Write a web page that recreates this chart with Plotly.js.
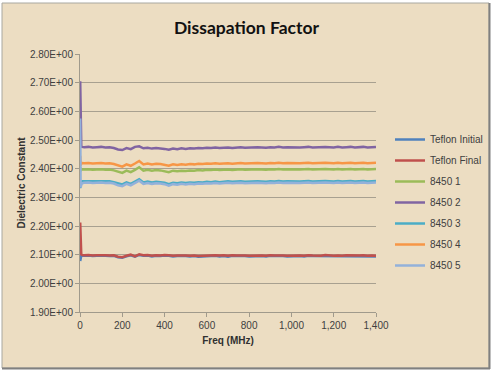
<!DOCTYPE html>
<html><head><meta charset="utf-8">
<script src="https://cdn.plot.ly/plotly-3.0.1.min.js"></script>
<style>html,body{margin:0;padding:0;background:#fff;}#chart{width:493px;height:372px;}</style>
</head><body><div id="chart"></div>
<script>
const freq = [1,3,6,10,
 20,40,60,80,100,120,140,160,180,200,
 220,240,260,280,300,320,340,360,380,400,
 420,440,460,480,500,520,540,560,580,600,
 620,640,660,680,700,720,740,760,780,800,
 820,840,860,880,900,920,940,960,980,1000,
 1020,1040,1060,1080,1100,1120,1140,1160,1180,1200,
 1220,1240,1260,1280,1300,1320,1340,1360,1380,1400];

const seriesNames = ['Teflon Initial','Teflon Final','8450 1','8450 2','8450 3','8450 4','8450 5'];
const seriesColors = ['#4F81BD','#C0504D','#9BBB59','#8064A2','#4BACC6','#F79646','#93B1DA'];

const teflonInitial = [2.078,2.094,2.096,2.097,
 2.096,2.097,2.095,2.096,2.097,2.096,2.095,2.096,2.091,2.089,
 2.094,2.098,2.093,2.099,2.096,2.097,2.094,2.096,2.095,2.097,
 2.096,2.094,2.095,2.096,2.095,2.094,2.095,2.093,2.094,2.096,
 2.095,2.096,2.094,2.095,2.093,2.096,2.095,2.096,2.095,2.094,
 2.095,2.096,2.095,2.094,2.096,2.095,2.096,2.095,2.094,2.095,
 2.096,2.095,2.094,2.096,2.095,2.095,2.094,2.096,2.095,2.094,
 2.095,2.094,2.096,2.095,2.094,2.095,2.096,2.094,2.095,2.094];
const teflonFinal = [2.212,2.103,2.101,2.099,
 2.098,2.099,2.097,2.098,2.099,2.098,2.097,2.098,2.093,2.091,
 2.096,2.100,2.094,2.101,2.098,2.099,2.096,2.098,2.097,2.099,
 2.098,2.096,2.097,2.098,2.097,2.096,2.097,2.095,2.096,2.098,
 2.097,2.098,2.097,2.098,2.096,2.098,2.097,2.098,2.097,2.096,
 2.097,2.098,2.097,2.096,2.098,2.097,2.098,2.097,2.096,2.097,
 2.098,2.097,2.096,2.098,2.097,2.097,2.096,2.099,2.097,2.096,
 2.097,2.096,2.098,2.097,2.096,2.097,2.098,2.096,2.097,2.096];
const s8450_1 = [2.405,2.392,2.396,2.398,
 2.397,2.398,2.396,2.397,2.398,2.396,2.397,2.394,2.389,2.385,
 2.393,2.388,2.396,2.405,2.393,2.396,2.393,2.395,2.394,2.392,
 2.388,2.393,2.391,2.393,2.392,2.394,2.393,2.395,2.394,2.396,
 2.395,2.397,2.395,2.396,2.397,2.395,2.397,2.398,2.396,2.397,
 2.396,2.398,2.397,2.396,2.398,2.397,2.399,2.397,2.398,2.397,
 2.398,2.397,2.398,2.399,2.397,2.398,2.397,2.399,2.398,2.397,
 2.399,2.397,2.398,2.399,2.397,2.398,2.399,2.397,2.398,2.399];
const s8450_2 = [2.705,2.490,2.478,2.476,
 2.475,2.476,2.474,2.475,2.476,2.474,2.475,2.472,2.467,2.465,
 2.472,2.468,2.476,2.478,2.471,2.473,2.470,2.472,2.471,2.469,
 2.466,2.470,2.468,2.471,2.469,2.471,2.470,2.472,2.471,2.473,
 2.472,2.474,2.472,2.473,2.474,2.472,2.474,2.475,2.473,2.474,
 2.473,2.475,2.474,2.473,2.475,2.474,2.476,2.474,2.475,2.474,
 2.475,2.474,2.475,2.476,2.474,2.475,2.474,2.476,2.475,2.474,
 2.476,2.474,2.475,2.476,2.474,2.475,2.476,2.474,2.475,2.476];
const s8450_3 = [2.332,2.352,2.355,2.356,
 2.356,2.357,2.355,2.356,2.357,2.355,2.356,2.353,2.348,2.345,
 2.352,2.347,2.355,2.363,2.352,2.355,2.352,2.354,2.353,2.351,
 2.346,2.351,2.349,2.352,2.350,2.352,2.351,2.353,2.352,2.354,
 2.353,2.355,2.353,2.354,2.356,2.354,2.355,2.356,2.354,2.355,
 2.354,2.356,2.355,2.354,2.356,2.355,2.357,2.355,2.356,2.355,
 2.356,2.355,2.356,2.357,2.355,2.356,2.355,2.357,2.356,2.355,
 2.357,2.355,2.356,2.357,2.355,2.356,2.357,2.355,2.356,2.357];
const s8450_4 = [2.445,2.412,2.418,2.420,
 2.419,2.420,2.418,2.419,2.420,2.418,2.419,2.416,2.411,2.407,
 2.415,2.410,2.418,2.427,2.415,2.418,2.415,2.417,2.416,2.414,
 2.410,2.415,2.413,2.415,2.414,2.416,2.415,2.417,2.416,2.418,
 2.417,2.419,2.417,2.418,2.419,2.417,2.419,2.420,2.418,2.419,
 2.418,2.420,2.419,2.418,2.420,2.419,2.421,2.419,2.420,2.419,
 2.420,2.419,2.420,2.421,2.419,2.420,2.419,2.421,2.420,2.419,
 2.421,2.419,2.420,2.421,2.419,2.420,2.421,2.419,2.420,2.421];
const s8450_5 = [2.575,2.335,2.343,2.349,
 2.351,2.352,2.350,2.351,2.352,2.350,2.351,2.348,2.342,2.339,
 2.347,2.342,2.350,2.358,2.347,2.350,2.347,2.349,2.348,2.346,
 2.341,2.346,2.344,2.347,2.345,2.347,2.346,2.348,2.347,2.349,
 2.348,2.350,2.348,2.349,2.351,2.349,2.350,2.351,2.349,2.350,
 2.349,2.351,2.350,2.349,2.351,2.350,2.352,2.350,2.351,2.350,
 2.351,2.350,2.351,2.352,2.350,2.351,2.350,2.352,2.351,2.350,
 2.352,2.350,2.351,2.352,2.350,2.351,2.352,2.350,2.351,2.352];

const yTickVals = [1.9,2.0,2.1,2.2,2.3,2.4,2.5,2.6,2.7,2.8];
const yTickText = ['1.90E+00','2.00E+00','2.10E+00','2.20E+00','2.30E+00','2.40E+00','2.50E+00','2.60E+00','2.70E+00','2.80E+00'];
const xTickVals = [0,200,400,600,800,1000,1200,1400];
const xTickText = ['0','200','400','600','800','1,000','1,200','1,400'];

const allY = [teflonInitial, teflonFinal, s8450_1, s8450_2, s8450_3, s8450_4, s8450_5];

const traces = allY.map((ys, i) => ({
  type: 'scatter', mode: 'lines', x: freq, y: ys, name: seriesNames[i],
  legendgroup: 'g' + i,
  line: {color: seriesColors[i], width: 2.5}
}));

const W = 493, H = 372, L = 80, R = 117, T = 54, B = 60;
const pw = W - L - R, ph = H - T - B;
const px = v => (v - L) / pw;
const py = v => (H - B - v) / ph;

const layout = {
  width: W, height: H,
  margin: {l: L, r: R, t: T, b: B, autoexpand: false},
  paper_bgcolor: '#ffffff',
  plot_bgcolor: 'rgba(0,0,0,0)',
  font: {family: 'Liberation Sans, Arial, sans-serif', size: 10, color: '#404040'},
  title: {text: 'Dissapation Factor', font: {family: 'Lato, sans-serif', size: 17.5, color: '#111111', weight: 'bold'},
          x: 0.5, xref: 'container', xanchor: 'center', y: 1 - 28 / H, yanchor: 'middle'},
  showlegend: true,
  legend: {x: px(390), xanchor: 'left', y: py(125), yanchor: 'top', bgcolor: 'rgba(0,0,0,0)',
           font: {size: 10, color: '#404040'}, tracegroupgap: 2, traceorder: 'grouped'},
  xaxis: {range: [0, 1400], tickvals: xTickVals, ticktext: xTickText, showgrid: false, zeroline: false,
          showline: true, linecolor: '#A09A8C', linewidth: 1, ticks: 'outside', ticklen: 4, tickcolor: '#A09A8C',
          tickfont: {size: 10, color: '#404040'},
          title: {text: 'Freq (MHz)', font: {size: 10, color: '#303030', weight: 'bold'}, standoff: 6}},
  yaxis: {range: [1.9, 2.8], tickvals: yTickVals, ticktext: yTickText, showgrid: true, gridcolor: '#A8A090', gridwidth: 1,
          zeroline: false, showline: true, linecolor: '#A09A8C', linewidth: 1, ticks: 'outside', ticklen: 4, tickcolor: '#A09A8C',
          tickfont: {size: 10, color: '#404040'},
          title: {text: 'Dielectric Constant', font: {size: 10, color: '#303030', weight: 'bold'}, standoff: 2}},
  shapes: [
    {type: 'rect', xref: 'paper', yref: 'paper', x0: px(2), x1: px(489), y0: py(368), y1: py(3),
     fillcolor: '#ECDDC2', line: {color: '#A8A8A0', width: 1}, layer: 'below'},
    {type: 'line', xref: 'paper', yref: 'paper', x0: px(2), x1: px(490), y0: py(368.5), y1: py(368.5),
     line: {color: '#808080', width: 2}, layer: 'below'},
    {type: 'line', xref: 'paper', yref: 'paper', x0: px(489.5), x1: px(489.5), y0: py(3), y1: py(369),
     line: {color: '#808080', width: 2}, layer: 'below'}
  ]
};

Plotly.newPlot('chart', traces, layout, {displayModeBar: false, staticPlot: true});
</script>
</body></html>
